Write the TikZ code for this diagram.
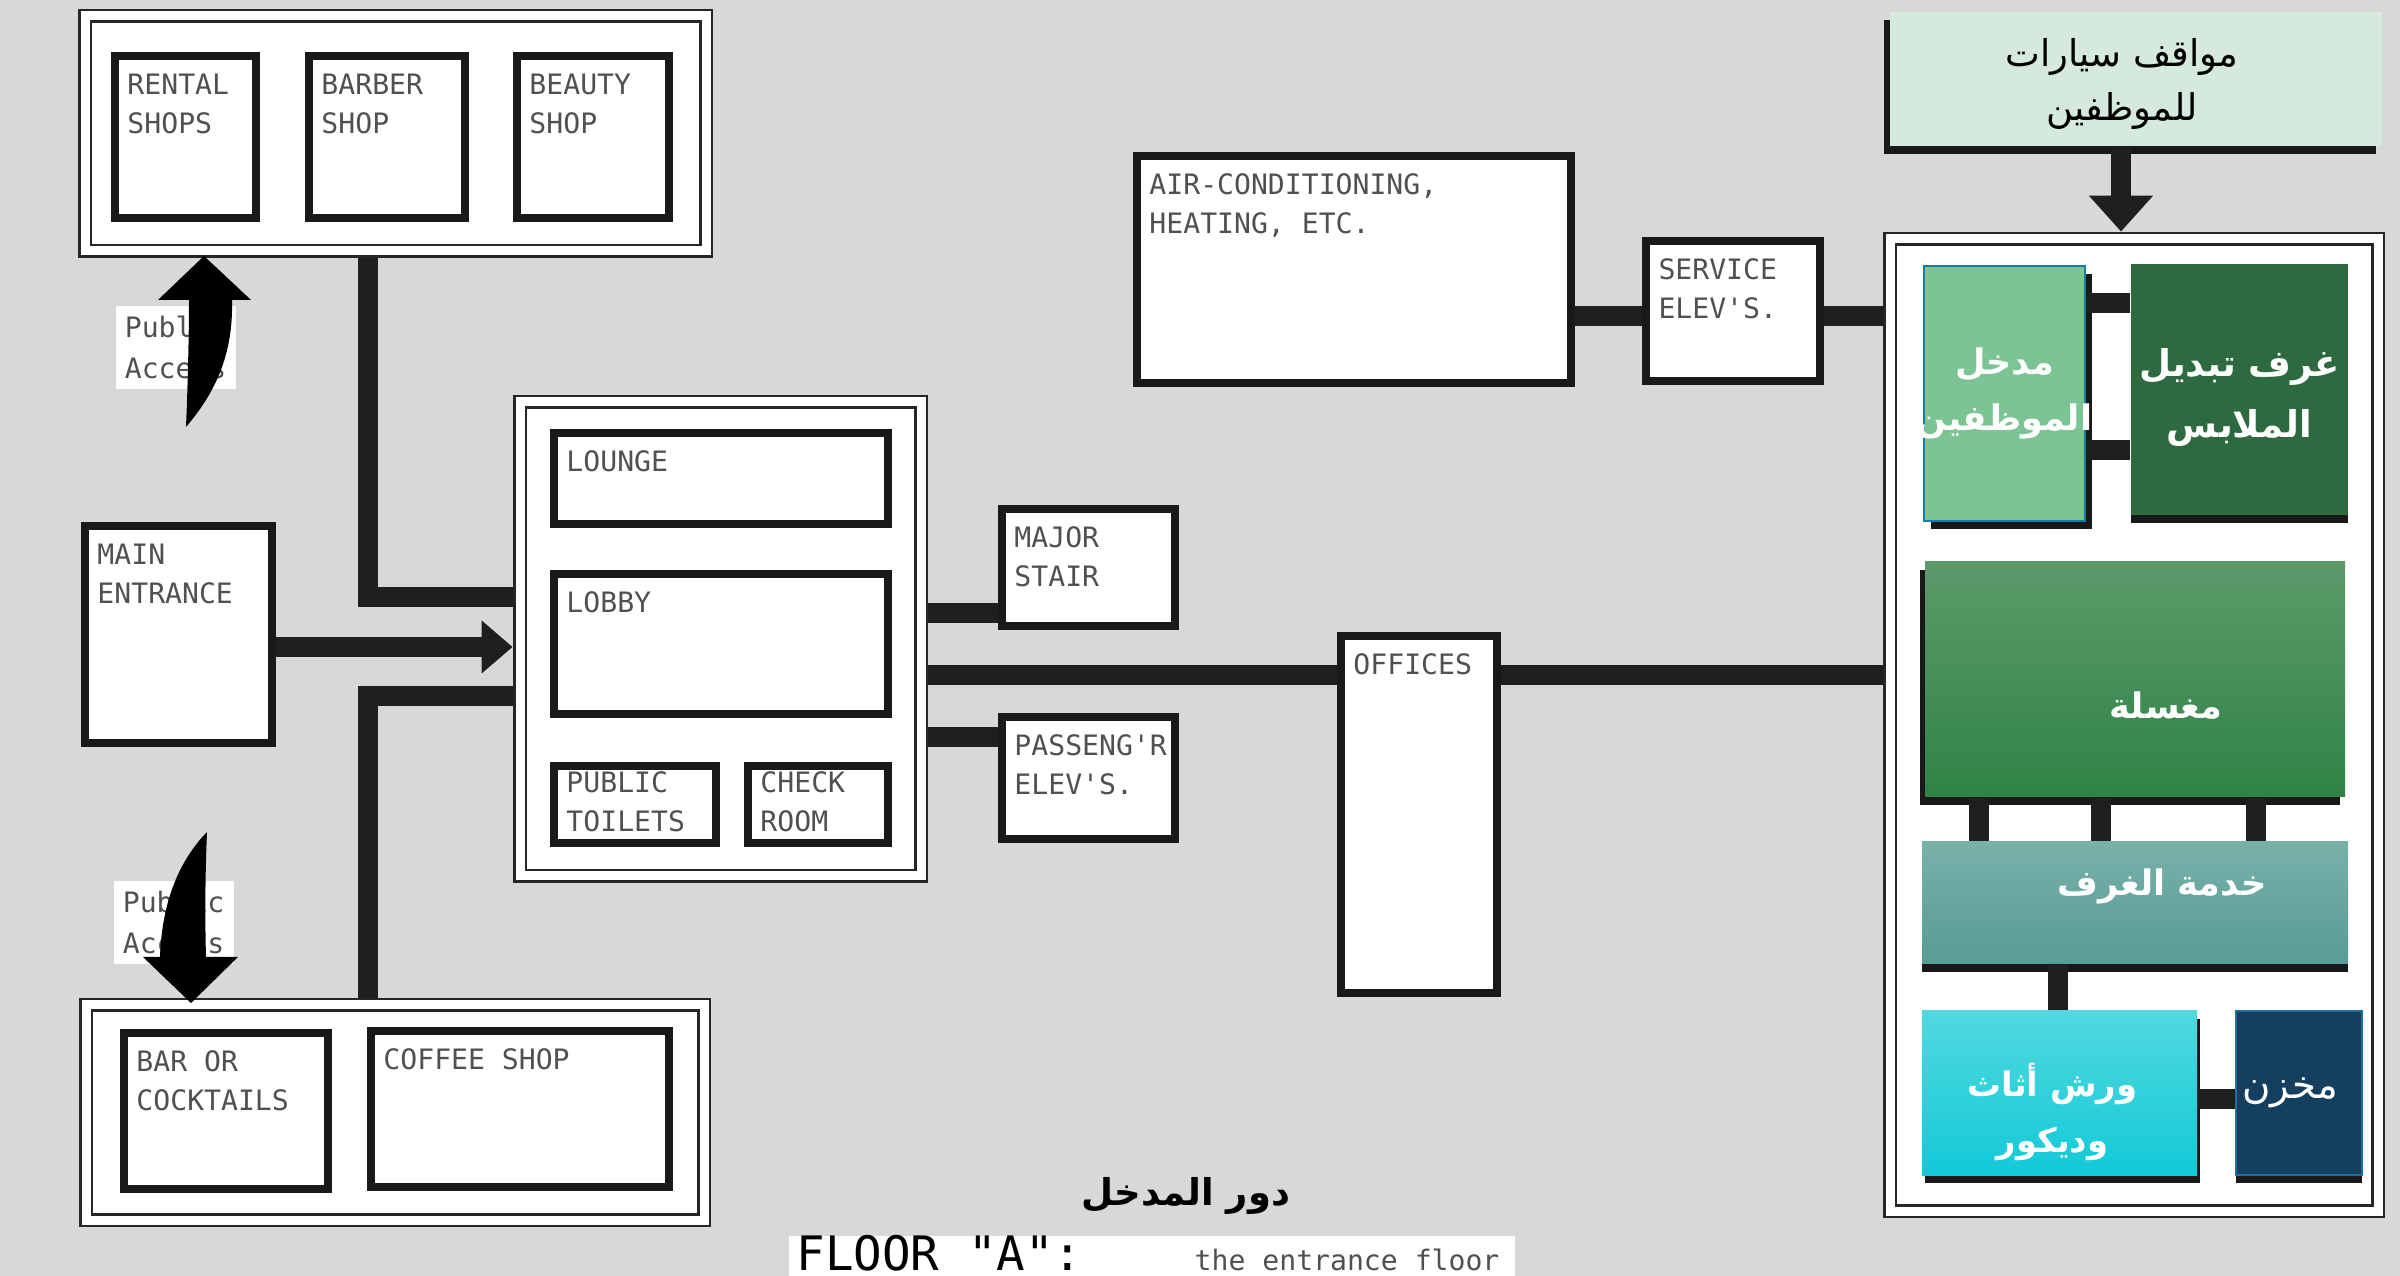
\documentclass[tikz,border=0pt]{standalone}
\usepackage{fontspec}
\usetikzlibrary{arrows.meta,positioning,fit,shadows}
\TeXXeTstate=1
\newfontfamily\arabicfont[Script=Arabic]{DejaVu Sans}
\newfontfamily\planfont{DejaVu Sans Mono}
\definecolor{paper}{RGB}{216,216,216}
\definecolor{ink}{RGB}{80,80,80}
\definecolor{parkfill}{RGB}{213,234,220}
\definecolor{entfill}{RGB}{125,196,149}
\definecolor{entline}{RGB}{26,123,165}
\definecolor{changefill}{RGB}{45,106,64}
\definecolor{laundtop}{RGB}{92,154,107}
\definecolor{laundbot}{RGB}{47,131,69}
\definecolor{servtop}{RGB}{121,176,170}
\definecolor{servbot}{RGB}{87,156,149}
\definecolor{worktop}{RGB}{82,216,224}
\definecolor{workbot}{RGB}{18,202,215}
\definecolor{storefill}{RGB}{20,63,95}
\definecolor{storeline}{RGB}{31,110,156}

\begin{document}
\begin{tikzpicture}[
    x=0.1mm, y=-0.1mm,
    tag/.style={font={\planfont\fontsize{8}{11.1}\selectfont}, text=ink, align=left,
                anchor=north west, inner xsep=4.5pt, inner ysep=6pt},
    room/.style={draw=black!90, line width=2.3pt, fill=white, inner sep=0pt,
                 label={[tag]north west:{#1}}},
    lowroom/.style={draw=black!90, line width=2.3pt, fill=white, inner sep=0pt,
                 label={[tag, inner ysep=2.6pt]north west:{#1}}},
    group/.style={draw=black!85, line width=0.8pt, double=white, double distance=0.9mm,
                  fill=white, inner sep=0pt, outer sep=2.1pt},
    link/.style={draw=black!88, line width=2mm},
    access/.style={fill=white, font={\planfont\fontsize{8}{11.5}\selectfont}, text=ink,
                   align=left, anchor=north west, inner xsep=2.6pt, inner ysep=3pt},
    arl/.style={font={\arabicfont\bfseries\fontsize{10}{16.5}\selectfont}, text=white,
                align=center, anchor=center, inner sep=0pt},
    backing/.style={general shadow={fill=black!90, shadow xshift=#1, shadow yshift=-0.8mm}},
    svc/.style={inner sep=0pt, draw=none}
  ]
  \useasboundingbox (0,0) rectangle (2400,1276);
  \clip (0,0) rectangle (2400,1276);
  \fill[paper] (0,0) rectangle (2400,1276);

  % shops
  \node[group, fit={(85,16) (706,251)}] (shops) {};
  \node[room={RENTAL\\SHOPS}, fit={(115,56) (256,218)}] (rental) {};
  \node[room={BARBER\\SHOP}, fit={(309,56) (465,218)}] (barber) {};
  \node[room={BEAUTY\\SHOP}, fit={(517,56) (669,218)}] (beauty) {};

  % entrance and lobby
  \node[room={MAIN\\ENTRANCE}, fit={(85,526) (272,743)}] (mainent) {};
  \node[group, fit={(520,402) (921,876)}] (lobgrp) {};
  \node[room={LOUNGE}, fit={(554,433) (888,524)}] (lounge) {};
  \node[room={LOBBY}, fit={(554,574) (888,714)}] (lobby) {};
  \node[lowroom={PUBLIC\\TOILETS}, fit={(554,766) (716,843)}] (toilets) {};
  \node[lowroom={CHECK\\ROOM}, fit={(748,766) (888,843)}] (checkrm) {};
  \node[room={MAJOR\\STAIR}, fit={(1002,509) (1175,626)}] (stair) {};
  \node[room={PASSENG'R\\ELEV'S.}, fit={(1002,717) (1175,839)}] (passelev) {};

  % plant, offices
  \node[room={AIR-CONDITIONING,\\HEATING, ETC.}, fit={(1137,156) (1571,383)}] (aircon) {};
  \node[room={SERVICE\\ELEV'S.}, fit={(1646,241) (1820,381)}] (svcelev) {};
  \node[room={OFFICES}, fit={(1341,636) (1497,993)}] (offices) {};

  % bar and coffee
  \node[group, fit={(86,1005) (704,1220)}] (lowgrp) {};
  \node[room={BAR OR\\COCKTAILS}, fit={(124,1033) (328,1189)}] (bar) {};
  \node[room={COFFEE SHOP}, fit={(371,1031) (669,1187)}] (coffee) {};

  % service block
  \node[svc, backing=-0.6mm, fill=parkfill, fit={(1890,12) (2382,146)},
        label={[arl, text=black, font={\arabicfont\fontsize{10.5}{15.6}\selectfont}, xshift=-1.4mm, yshift=-0.5mm]center:{\beginR مواقف سيارات\endR\\\beginR للموظفين\endR}}] (parking) {};
  \node[group, fit={(1890,239) (2378,1211)}] (svcgrp) {};
  \node[svc, backing=0.7mm, fill=entfill, draw=entline, line width=0.8pt, fit={(1924,266) (2085,521)},
        label={[arl, font={\arabicfont\bfseries\fontsize{10}{16}\selectfont}]center:{\beginR مدخل\endR\\\beginR الموظفين\endR}}] (staffin) {};
  \node[svc, backing=0mm, fill=changefill, fit={(2131,264) (2348,515)},
        label={[arl, font={\arabicfont\bfseries\fontsize{10.5}{17.4}\selectfont}, yshift=-0.8mm]center:{\beginR غرف تبديل\endR\\\beginR الملابس\endR}}] (dressing) {};
  \node[svc, backing=-0.5mm, top color=laundtop, bottom color=laundbot, fit={(1925,562) (2345,797)},
        label={[arl, xshift=3.1mm, yshift=-2.6mm]center:{\beginR مغسلة\endR}}] (laundry) {};
  \node[svc, backing=0mm, top color=servtop, bottom color=servbot, fit={(1922,842) (2348,964)},
        label={[arl, xshift=2.7mm, yshift=1.7mm]center:{\beginR خدمة الغرف\endR}}] (roomsvc) {};
  \node[svc, backing=0.3mm, top color=worktop, bottom color=workbot, fit={(1922,1011) (2197,1175)},
        label={[arl, font={\arabicfont\bfseries\fontsize{9.6}{16}\selectfont}, xshift=-0.7mm, yshift=-1.9mm]center:{\beginR ورش أثاث\endR\\\beginR وديكور\endR}}] (workshop) {};
  \node[svc, backing=0mm, fill=storefill, draw=storeline, line width=0.8pt, fit={(2236,1011) (2362,1175)},
        label={[arl, font={\arabicfont\fontsize{11}{16.5}\selectfont}, xshift=-0.9mm]center:{\beginR مخزن\endR}}] (store) {};

  % connector heights
  \coordinate (tjoin) at (368,597);
  \coordinate (bjoin) at (368,696);
  \coordinate (yent) at (0,647);
  \coordinate (ystair) at (0,613);
  \coordinate (ymain) at (0,675);
  \coordinate (ypass) at (0,737);
  \coordinate (yac) at (0,316);
  \coordinate (xpark) at (2121,0);
  \coordinate (ydress1) at (0,303);
  \coordinate (ydress2) at (0,450);
  \coordinate (xl1) at (1979,0);
  \coordinate (xl2) at (2101,0);
  \coordinate (xl3) at (2256,0);
  \coordinate (xsvc) at (2058,0);
  \coordinate (ystore) at (0,1099);

  % connectors
  \draw[link] (shops.south -| tjoin) -- (tjoin) -- (tjoin -| lobgrp.west);
  \draw[link] (lobgrp.west |- bjoin) -- (bjoin) -- (bjoin |- lowgrp.north);
  \draw[link, -{Triangle[length=3.1mm,width=5.1mm]}] (mainent.east |- yent) -- (lobgrp.west |- yent);
  \draw[link] (lobgrp.east |- ystair) -- (stair.west |- ystair);
  \draw[link] (lobgrp.east |- ypass) -- (passelev.west |- ypass);
  \draw[link] (lobgrp.east |- ymain) -- (offices.west |- ymain);
  \draw[link] (offices.east |- ymain) -- (svcgrp.west |- ymain);
  \draw[link] (aircon.east |- yac) -- (svcelev.west |- yac);
  \draw[link] (svcelev.east |- yac) -- (svcgrp.west |- yac);
  \draw[link, -{Triangle[length=3.6mm,width=6.2mm]}] (parking.south -| xpark) -- (svcgrp.north -| xpark);
  \draw[link] (staffin.east |- ydress1) -- (dressing.west |- ydress1);
  \draw[link] (staffin.east |- ydress2) -- (dressing.west |- ydress2);
  \foreach \c in {xl1,xl2,xl3}
    \draw[link] (laundry.south -| \c) -- (roomsvc.north -| \c);
  \draw[link] (roomsvc.south -| xsvc) -- (workshop.north -| xsvc);
  \draw[link] (workshop.east |- ystore) -- (store.west |- ystore);

  % public access
  \node[access] (accup) at (115,305) {Public\\Access};
  \node[access] (accdown) at (113,880) {Public\\Access};
  \fill[black] (186,427) .. controls (188,380) and (189,330) .. (189,300) -- (158,300)
    -- (204,256) -- (251,300) -- (232,300) .. controls (233,345) and (222,385) .. (186,427) -- cycle;
  \fill[black] (207,832) .. controls (205,880) and (205,920) .. (206,957) -- (238,957)
    -- (191,1003) -- (143,957) -- (160,957) .. controls (162,900) and (180,860) .. (207,832) -- cycle;

  % title
  \node[font={\arabicfont\bfseries\fontsize{10.5}{14}\selectfont}] (title) at (1186,1196) {\beginR دور المدخل\endR};
  \node[fill=white, inner sep=0pt, minimum width=72.6mm, minimum height=6mm, anchor=north west] (floorbar) at (788,1235) {};
  \node[anchor=base west, font={\planfont\fontsize{13.5}{13.5}\selectfont}, inner sep=0pt] (floor) at (796,1270) {FLOOR "A":};
  \node[anchor=base west, font={\planfont\fontsize{8}{8}\selectfont}, text=ink, inner sep=0pt] (floorsub) at (1194,1270) {the entrance floor};
\end{tikzpicture}
\end{document}
